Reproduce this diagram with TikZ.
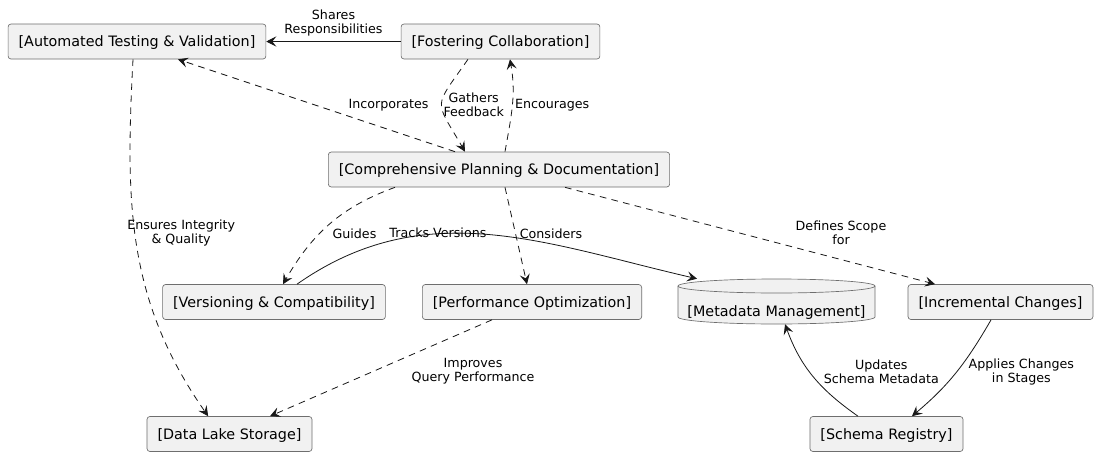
\documentclass[tikz,border=0pt]{standalone}
\usepackage{fontspec}
\setmainfont{DejaVu Sans}
\usepackage{tikz}
\usetikzlibrary{arrows.meta,positioning}
\definecolor{boxfill}{HTML}{F1F1F1}
\definecolor{boxline}{HTML}{6E6E6E}
\definecolor{edgecol}{HTML}{181818}
\tikzset{>={Stealth[length=7.5pt,width=7.5pt,inset=3pt]}}

\begin{document}
\begin{tikzpicture}[x=0.75pt,y=0.75pt,
	comp/.style={draw=boxline,fill=boxfill,rounded corners=2.2pt,line width=0.5pt,minimum height=26.25pt,inner xsep=7.9pt,inner ysep=0pt,text depth=0pt,font=\fontsize{10.75}{12.9}\selectfont},
	lbl/.style={font=\fontsize{9.5}{10.6}\selectfont,align=center,inner sep=0pt,text=black},
	rel/.style={draw=edgecol,line width=0.6pt,->},
	dep/.style={rel,dash pattern=on 5pt off 4pt}]
	\fill[white] (0,0) rectangle (1096,-457);
	\useasboundingbox (0,0) rectangle (1096,-457);
	
	%Boxes
	\node[comp] (AT) at (137,-41.5) {[Automated Testing \& Validation]};
	\node[comp] (FC) at (500.5,-41.5) {[Fostering Collaboration]};
	\node[comp] (CP) at (499,-169.5) {[Comprehensive Planning \& Documentation]};
	\node[comp] (VC) at (274,-302) {[Versioning \& Compatibility]};
	\node[comp] (PO) at (532,-302) {[Performance Optimization]};
	\node[comp] (IC) at (1000.5,-302) {[Incremental Changes]};
	\node[comp] (DL) at (229.5,-434) {[Data Lake Storage]};
	\node[comp] (SR) at (886.5,-434) {[Schema Registry]};
	
	%Database
	\draw[draw=boxline,fill=boxfill,line width=0.5pt] (678,-286) -- (678,-317) arc[start angle=180,end angle=360,x radius=73.875pt,y radius=5.25pt] -- (875,-286) arc[start angle=0,end angle=180,x radius=73.875pt,y radius=5.25pt] -- cycle;
	\draw[draw=boxline,line width=0.5pt] (678,-286) arc[start angle=180,end angle=360,x radius=73.875pt,y radius=5.25pt];
	\node[minimum width=147.75pt,inner sep=0pt,text height=28.25pt,text depth=5.5pt,font=\fontsize{10.75}{12.9}\selectfont] (MM) at (776.5,-301.5) {[Metadata Management]};
	
	%Arrows
	\draw[rel] (FC) -- node[lbl,midway,yshift=13.9pt] {Shares\\Responsibilities} (AT);
	\draw[dep] ([xshift=-33pt]CP.north) -- node[lbl,midway,xshift=54pt] {Incorporates} ([xshift=30.75pt]AT.south);
	\draw[dep] ([xshift=-24.4pt]FC.south) to[out=235,in=120,looseness=1.7] node[lbl,midway,xshift=24pt] {Gathers\\Feedback} ([xshift=-25.5pt]CP.north);
	\draw[dep] ([xshift=4.5pt]CP.north) to[out=80,in=-80] node[lbl,midway,xshift=30pt] {Encourages} ([xshift=7.1pt]FC.south);
	\draw[dep] ([xshift=-3pt]AT.south) to[out=-93,in=125] node[lbl,midway,xshift=33pt,yshift=10.5pt] {Ensures Integrity\\\& Quality} ([xshift=-16pt]DL.north);
	\draw[dep] ([xshift=-78pt]CP.south) to[out=200,in=60] node[lbl,midway,xshift=18.75pt,yshift=-6.75pt] {Guides} ([xshift=6.75pt]VC.north);
	\draw[dep] ([xshift=4.5pt]CP.south) -- node[lbl,midway,xshift=26.25pt,yshift=1.5pt] {Considers} ([xshift=-3.75pt]PO.north);
	\draw[dep] ([xshift=49.5pt]CP.south) -- node[lbl,midway,xshift=68.25pt,yshift=2pt] {Defines Scope\\for} ([xshift=-49.1pt]IC.north);
	\draw[rel] ([xshift=17.25pt]VC.north) to[out=35,in=167] node[lbl,midway,xshift=-37.5pt,yshift=1.5pt] {Tracks Versions} ([xshift=-59.6pt]MM.north);
	\draw[dep] ([xshift=-30pt]PO.south) -- node[lbl,midway,xshift=69pt,yshift=-2.25pt] {Improves\\Query Performance} ([xshift=30.4pt]DL.north);
	\draw[rel] ([xshift=-21.4pt]SR.north) to[out=145,in=-70] node[lbl,midway,xshift=51pt,yshift=3.75pt] {Updates\\Schema Metadata} ([xshift=6.4pt]MM.south);
	\draw[rel] ([xshift=-7.1pt]IC.south) to[out=-120,in=40] node[lbl,midway,xshift=48.75pt] {Applies Changes\\in Stages} ([xshift=19.1pt]SR.north);
\end{tikzpicture}
\end{document}
